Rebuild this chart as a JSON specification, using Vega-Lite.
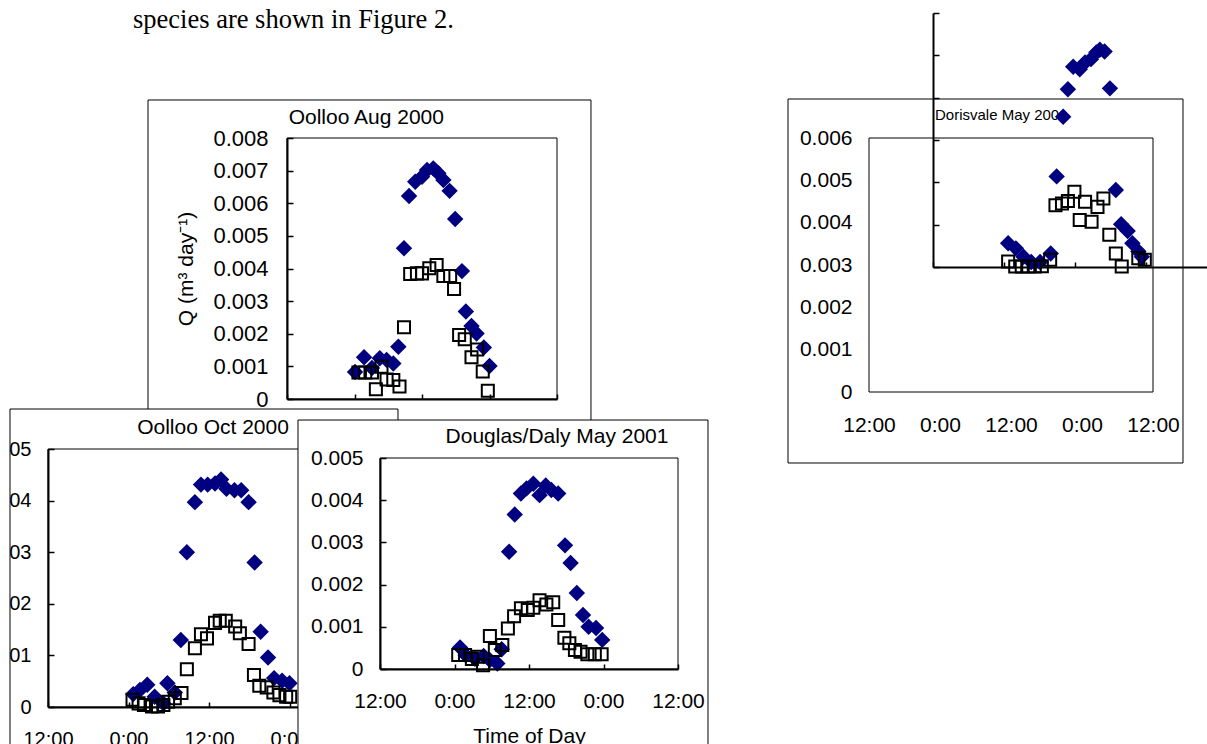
{
"$schema":"https://vega.github.io/schema/vega-lite/v6.json",
"width":1207,"height":744,"padding":0,"autosize":{"type":"none"},
"background":"white",
"config":{"view":{"stroke":null},"font":"Liberation Sans","axis":{"grid":false,"domainColor":"black","tickColor":"black","labelColor":"black","titleColor":"black","labelFont":"Liberation Sans","titleFont":"Liberation Sans","titleFontWeight":"normal","labelOverlap":false,"labelFlush":false,"labelBound":false,"domainWidth":2,"tickWidth":1.5}},
"datasets":{"q":[
{"site":"Oolloo Aug 2000","sp":"A","hour":12.1,"Q":0.00083},{"site":"Oolloo Aug 2000","sp":"A","hour":13.7,"Q":0.00128},{"site":"Oolloo Aug 2000","sp":"A","hour":15.1,"Q":0.00095},{"site":"Oolloo Aug 2000","sp":"A","hour":16.5,"Q":0.00125},{"site":"Oolloo Aug 2000","sp":"A","hour":17.7,"Q":0.0012},{"site":"Oolloo Aug 2000","sp":"A","hour":18.9,"Q":0.00109},{"site":"Oolloo Aug 2000","sp":"A","hour":19.8,"Q":0.0016},{"site":"Oolloo Aug 2000","sp":"A","hour":20.8,"Q":0.00462},{"site":"Oolloo Aug 2000","sp":"A","hour":21.7,"Q":0.00622},{"site":"Oolloo Aug 2000","sp":"A","hour":22.8,"Q":0.00666},{"site":"Oolloo Aug 2000","sp":"A","hour":24.0,"Q":0.00681},{"site":"Oolloo Aug 2000","sp":"A","hour":24.9,"Q":0.00702},{"site":"Oolloo Aug 2000","sp":"A","hour":26.0,"Q":0.00707},{"site":"Oolloo Aug 2000","sp":"A","hour":26.9,"Q":0.00692},{"site":"Oolloo Aug 2000","sp":"A","hour":27.8,"Q":0.00671},{"site":"Oolloo Aug 2000","sp":"A","hour":28.9,"Q":0.00638},{"site":"Oolloo Aug 2000","sp":"A","hour":29.9,"Q":0.00552},{"site":"Oolloo Aug 2000","sp":"A","hour":31.1,"Q":0.00392},{"site":"Oolloo Aug 2000","sp":"A","hour":31.8,"Q":0.00268},{"site":"Oolloo Aug 2000","sp":"A","hour":32.8,"Q":0.00224},{"site":"Oolloo Aug 2000","sp":"A","hour":33.7,"Q":0.00201},{"site":"Oolloo Aug 2000","sp":"A","hour":35.0,"Q":0.00158},{"site":"Oolloo Aug 2000","sp":"A","hour":36.0,"Q":0.00101},
{"site":"Oolloo Aug 2000","sp":"B","hour":12.7,"Q":0.00081},{"site":"Oolloo Aug 2000","sp":"B","hour":13.9,"Q":0.00081},{"site":"Oolloo Aug 2000","sp":"B","hour":15.1,"Q":0.00081},{"site":"Oolloo Aug 2000","sp":"B","hour":15.8,"Q":0.0003},{"site":"Oolloo Aug 2000","sp":"B","hour":16.8,"Q":0.00099},{"site":"Oolloo Aug 2000","sp":"B","hour":17.7,"Q":0.0006},{"site":"Oolloo Aug 2000","sp":"B","hour":18.9,"Q":0.00058},{"site":"Oolloo Aug 2000","sp":"B","hour":20.0,"Q":0.00038},{"site":"Oolloo Aug 2000","sp":"B","hour":20.8,"Q":0.0022},{"site":"Oolloo Aug 2000","sp":"B","hour":21.9,"Q":0.00383},{"site":"Oolloo Aug 2000","sp":"B","hour":23.1,"Q":0.00385},{"site":"Oolloo Aug 2000","sp":"B","hour":24.0,"Q":0.00385},{"site":"Oolloo Aug 2000","sp":"B","hour":25.3,"Q":0.00401},{"site":"Oolloo Aug 2000","sp":"B","hour":26.6,"Q":0.00411},{"site":"Oolloo Aug 2000","sp":"B","hour":27.8,"Q":0.00377},{"site":"Oolloo Aug 2000","sp":"B","hour":29.0,"Q":0.00377},{"site":"Oolloo Aug 2000","sp":"B","hour":29.7,"Q":0.00337},{"site":"Oolloo Aug 2000","sp":"B","hour":30.6,"Q":0.00196},{"site":"Oolloo Aug 2000","sp":"B","hour":31.6,"Q":0.00183},{"site":"Oolloo Aug 2000","sp":"B","hour":32.8,"Q":0.00128},{"site":"Oolloo Aug 2000","sp":"B","hour":33.8,"Q":0.00152},{"site":"Oolloo Aug 2000","sp":"B","hour":34.8,"Q":0.00084},{"site":"Oolloo Aug 2000","sp":"B","hour":35.7,"Q":0.00025},
{"site":"Oolloo Oct 2000","sp":"A","hour":12.7,"Q":0.00025},{"site":"Oolloo Oct 2000","sp":"A","hour":13.7,"Q":0.00033},{"site":"Oolloo Oct 2000","sp":"A","hour":14.8,"Q":0.00043},{"site":"Oolloo Oct 2000","sp":"A","hour":15.9,"Q":0.0002},{"site":"Oolloo Oct 2000","sp":"A","hour":17.2,"Q":0.00007},{"site":"Oolloo Oct 2000","sp":"A","hour":17.8,"Q":0.00046},{"site":"Oolloo Oct 2000","sp":"A","hour":18.9,"Q":0.00028},{"site":"Oolloo Oct 2000","sp":"A","hour":19.8,"Q":0.0013},{"site":"Oolloo Oct 2000","sp":"A","hour":20.7,"Q":0.003},{"site":"Oolloo Oct 2000","sp":"A","hour":21.9,"Q":0.00397},{"site":"Oolloo Oct 2000","sp":"A","hour":22.8,"Q":0.00431},{"site":"Oolloo Oct 2000","sp":"A","hour":23.8,"Q":0.00431},{"site":"Oolloo Oct 2000","sp":"A","hour":24.9,"Q":0.00433},{"site":"Oolloo Oct 2000","sp":"A","hour":25.8,"Q":0.00441},{"site":"Oolloo Oct 2000","sp":"A","hour":26.6,"Q":0.00423},{"site":"Oolloo Oct 2000","sp":"A","hour":27.8,"Q":0.0042},{"site":"Oolloo Oct 2000","sp":"A","hour":28.8,"Q":0.0042},{"site":"Oolloo Oct 2000","sp":"A","hour":29.9,"Q":0.00397},{"site":"Oolloo Oct 2000","sp":"A","hour":30.8,"Q":0.0028},{"site":"Oolloo Oct 2000","sp":"A","hour":31.7,"Q":0.00146},{"site":"Oolloo Oct 2000","sp":"A","hour":32.8,"Q":0.00096},{"site":"Oolloo Oct 2000","sp":"A","hour":33.7,"Q":0.00056},{"site":"Oolloo Oct 2000","sp":"A","hour":34.9,"Q":0.00051},{"site":"Oolloo Oct 2000","sp":"A","hour":36.0,"Q":0.00046},
{"site":"Oolloo Oct 2000","sp":"B","hour":12.6,"Q":0.00014},{"site":"Oolloo Oct 2000","sp":"B","hour":13.5,"Q":0.00007},{"site":"Oolloo Oct 2000","sp":"B","hour":14.3,"Q":0.00004},{"site":"Oolloo Oct 2000","sp":"B","hour":15.5,"Q":0.00001},{"site":"Oolloo Oct 2000","sp":"B","hour":16.4,"Q":0.00001},{"site":"Oolloo Oct 2000","sp":"B","hour":17.2,"Q":0.00004},{"site":"Oolloo Oct 2000","sp":"B","hour":17.9,"Q":0.0001},{"site":"Oolloo Oct 2000","sp":"B","hour":18.9,"Q":0.00017},{"site":"Oolloo Oct 2000","sp":"B","hour":19.9,"Q":0.00027},{"site":"Oolloo Oct 2000","sp":"B","hour":20.7,"Q":0.00073},{"site":"Oolloo Oct 2000","sp":"B","hour":21.9,"Q":0.00114},{"site":"Oolloo Oct 2000","sp":"B","hour":22.8,"Q":0.00141},{"site":"Oolloo Oct 2000","sp":"B","hour":23.7,"Q":0.00133},{"site":"Oolloo Oct 2000","sp":"B","hour":24.9,"Q":0.00163},{"site":"Oolloo Oct 2000","sp":"B","hour":25.6,"Q":0.00167},{"site":"Oolloo Oct 2000","sp":"B","hour":26.5,"Q":0.00167},{"site":"Oolloo Oct 2000","sp":"B","hour":27.9,"Q":0.00156},{"site":"Oolloo Oct 2000","sp":"B","hour":28.6,"Q":0.00143},{"site":"Oolloo Oct 2000","sp":"B","hour":29.9,"Q":0.00122},{"site":"Oolloo Oct 2000","sp":"B","hour":30.7,"Q":0.00062},{"site":"Oolloo Oct 2000","sp":"B","hour":31.5,"Q":0.00041},{"site":"Oolloo Oct 2000","sp":"B","hour":32.6,"Q":0.00038},{"site":"Oolloo Oct 2000","sp":"B","hour":33.6,"Q":0.00028},{"site":"Oolloo Oct 2000","sp":"B","hour":34.5,"Q":0.00023},{"site":"Oolloo Oct 2000","sp":"B","hour":35.5,"Q":0.0002},{"site":"Oolloo Oct 2000","sp":"B","hour":36.1,"Q":0.0002},
{"site":"Douglas/Daly May 2001","sp":"A","hour":12.9,"Q":0.00051},{"site":"Douglas/Daly May 2001","sp":"A","hour":13.8,"Q":0.00033},{"site":"Douglas/Daly May 2001","sp":"A","hour":15.3,"Q":0.00024},{"site":"Douglas/Daly May 2001","sp":"A","hour":16.7,"Q":0.00031},{"site":"Douglas/Daly May 2001","sp":"A","hour":17.7,"Q":0.00021},{"site":"Douglas/Daly May 2001","sp":"A","hour":18.9,"Q":0.00013},{"site":"Douglas/Daly May 2001","sp":"A","hour":19.6,"Q":0.00047},{"site":"Douglas/Daly May 2001","sp":"A","hour":20.8,"Q":0.00278},{"site":"Douglas/Daly May 2001","sp":"A","hour":21.7,"Q":0.00366},{"site":"Douglas/Daly May 2001","sp":"A","hour":22.7,"Q":0.00416},{"site":"Douglas/Daly May 2001","sp":"A","hour":23.6,"Q":0.00428},{"site":"Douglas/Daly May 2001","sp":"A","hour":24.7,"Q":0.00439},{"site":"Douglas/Daly May 2001","sp":"A","hour":25.7,"Q":0.00412},{"site":"Douglas/Daly May 2001","sp":"A","hour":26.7,"Q":0.00435},{"site":"Douglas/Daly May 2001","sp":"A","hour":27.6,"Q":0.00424},{"site":"Douglas/Daly May 2001","sp":"A","hour":28.7,"Q":0.00416},{"site":"Douglas/Daly May 2001","sp":"A","hour":29.8,"Q":0.00293},{"site":"Douglas/Daly May 2001","sp":"A","hour":30.7,"Q":0.00251},{"site":"Douglas/Daly May 2001","sp":"A","hour":31.7,"Q":0.0018},{"site":"Douglas/Daly May 2001","sp":"A","hour":32.7,"Q":0.00128},{"site":"Douglas/Daly May 2001","sp":"A","hour":33.6,"Q":0.001},{"site":"Douglas/Daly May 2001","sp":"A","hour":34.8,"Q":0.00097},{"site":"Douglas/Daly May 2001","sp":"A","hour":35.8,"Q":0.00069},
{"site":"Douglas/Daly May 2001","sp":"B","hour":12.6,"Q":0.00033},{"site":"Douglas/Daly May 2001","sp":"B","hour":13.7,"Q":0.00033},{"site":"Douglas/Daly May 2001","sp":"B","hour":14.8,"Q":0.00024},{"site":"Douglas/Daly May 2001","sp":"B","hour":15.8,"Q":0.00029},{"site":"Douglas/Daly May 2001","sp":"B","hour":16.6,"Q":0.00009},{"site":"Douglas/Daly May 2001","sp":"B","hour":17.7,"Q":0.00078},{"site":"Douglas/Daly May 2001","sp":"B","hour":18.5,"Q":0.00045},{"site":"Douglas/Daly May 2001","sp":"B","hour":19.7,"Q":0.00057},{"site":"Douglas/Daly May 2001","sp":"B","hour":20.6,"Q":0.00096},{"site":"Douglas/Daly May 2001","sp":"B","hour":21.6,"Q":0.00125},{"site":"Douglas/Daly May 2001","sp":"B","hour":22.7,"Q":0.00144},{"site":"Douglas/Daly May 2001","sp":"B","hour":23.8,"Q":0.0014},{"site":"Douglas/Daly May 2001","sp":"B","hour":24.7,"Q":0.00145},{"site":"Douglas/Daly May 2001","sp":"B","hour":25.7,"Q":0.00163},{"site":"Douglas/Daly May 2001","sp":"B","hour":26.8,"Q":0.00153},{"site":"Douglas/Daly May 2001","sp":"B","hour":27.9,"Q":0.00158},{"site":"Douglas/Daly May 2001","sp":"B","hour":28.7,"Q":0.00116},{"site":"Douglas/Daly May 2001","sp":"B","hour":29.7,"Q":0.00074},{"site":"Douglas/Daly May 2001","sp":"B","hour":30.5,"Q":0.00061},{"site":"Douglas/Daly May 2001","sp":"B","hour":31.4,"Q":0.00045},{"site":"Douglas/Daly May 2001","sp":"B","hour":32.3,"Q":0.00041},{"site":"Douglas/Daly May 2001","sp":"B","hour":33.4,"Q":0.00035},{"site":"Douglas/Daly May 2001","sp":"B","hour":34.6,"Q":0.00035},{"site":"Douglas/Daly May 2001","sp":"B","hour":35.7,"Q":0.00035},
{"site":"Dorisvale May 2001","sp":"A","hour":12.7,"Q":0.00056},{"site":"Dorisvale May 2001","sp":"A","hour":14.0,"Q":0.00044},{"site":"Dorisvale May 2001","sp":"A","hour":15.3,"Q":0.00024},{"site":"Dorisvale May 2001","sp":"A","hour":16.6,"Q":0.00012},{"site":"Dorisvale May 2001","sp":"A","hour":18.1,"Q":0.00012},{"site":"Dorisvale May 2001","sp":"A","hour":19.9,"Q":0.00032},{"site":"Dorisvale May 2001","sp":"A","hour":20.9,"Q":0.00214},{"site":"Dorisvale May 2001","sp":"A","hour":22.0,"Q":0.00355},{"site":"Dorisvale May 2001","sp":"A","hour":22.8,"Q":0.0042},{"site":"Dorisvale May 2001","sp":"A","hour":23.7,"Q":0.00473},{"site":"Dorisvale May 2001","sp":"A","hour":24.8,"Q":0.00467},{"site":"Dorisvale May 2001","sp":"A","hour":25.7,"Q":0.00483},{"site":"Dorisvale May 2001","sp":"A","hour":26.7,"Q":0.00491},{"site":"Dorisvale May 2001","sp":"A","hour":27.6,"Q":0.00507},{"site":"Dorisvale May 2001","sp":"A","hour":28.2,"Q":0.00513},{"site":"Dorisvale May 2001","sp":"A","hour":29.0,"Q":0.00509},{"site":"Dorisvale May 2001","sp":"A","hour":29.9,"Q":0.00422},{"site":"Dorisvale May 2001","sp":"A","hour":30.9,"Q":0.00182},{"site":"Dorisvale May 2001","sp":"A","hour":31.8,"Q":0.00101},{"site":"Dorisvale May 2001","sp":"A","hour":32.9,"Q":0.00085},{"site":"Dorisvale May 2001","sp":"A","hour":33.7,"Q":0.00056},{"site":"Dorisvale May 2001","sp":"A","hour":34.7,"Q":0.00037},{"site":"Dorisvale May 2001","sp":"A","hour":35.3,"Q":0.00024},
{"site":"Dorisvale May 2001","sp":"B","hour":12.7,"Q":0.00013},{"site":"Dorisvale May 2001","sp":"B","hour":13.9,"Q":0.00001},{"site":"Dorisvale May 2001","sp":"B","hour":15.0,"Q":0.00001},{"site":"Dorisvale May 2001","sp":"B","hour":16.1,"Q":0.00001},{"site":"Dorisvale May 2001","sp":"B","hour":17.2,"Q":0.00001},{"site":"Dorisvale May 2001","sp":"B","hour":18.4,"Q":0.00002},{"site":"Dorisvale May 2001","sp":"B","hour":19.8,"Q":0.00017},{"site":"Dorisvale May 2001","sp":"B","hour":20.7,"Q":0.00146},{"site":"Dorisvale May 2001","sp":"B","hour":21.8,"Q":0.0015},{"site":"Dorisvale May 2001","sp":"B","hour":22.8,"Q":0.00156},{"site":"Dorisvale May 2001","sp":"B","hour":23.9,"Q":0.00178},{"site":"Dorisvale May 2001","sp":"B","hour":24.8,"Q":0.00111},{"site":"Dorisvale May 2001","sp":"B","hour":25.7,"Q":0.00154},{"site":"Dorisvale May 2001","sp":"B","hour":26.8,"Q":0.00107},{"site":"Dorisvale May 2001","sp":"B","hour":27.8,"Q":0.00142},{"site":"Dorisvale May 2001","sp":"B","hour":28.8,"Q":0.00162},{"site":"Dorisvale May 2001","sp":"B","hour":29.8,"Q":0.00076},{"site":"Dorisvale May 2001","sp":"B","hour":30.9,"Q":0.00032},{"site":"Dorisvale May 2001","sp":"B","hour":31.9,"Q":0.00001},{"site":"Dorisvale May 2001","sp":"B","hour":34.7,"Q":0.00021},{"site":"Dorisvale May 2001","sp":"B","hour":35.8,"Q":0.00017}
]},
"resolve":{"scale":{"x":"independent","y":"independent"},"axis":{"x":"independent","y":"independent"}},
"layer":[
{"layer":[
 {"data":{"values":[{}]},"mark":{"type":"rule","color":"black","strokeWidth":1},
  "encoding":{"x":{"datum":-24.71,"type":"quantitative","scale":{"domain":[0,48],"range":[287,557],"zero":false,"nice":false},"axis":{"orient":"bottom","offset":-345,"values":[0,12,24,36,48],"labels":false,"tickSize":-5,"title":null,"zindex":0}},"y":{"datum":0.009165,"type":"quantitative","scale":{"domain":[0,0.008],"range":[399,138],"zero":false,"nice":false},"axis":{"orient":"left","offset":-287,"values":[0,0.001,0.002,0.003,0.004,0.005,0.006,0.007,0.008],"labelExpr":"datum.value == 0 ? '0' : format(datum.value, '.3f')","tickSize":-6,"labelPadding":25,"labelFontSize":22,"title":"Q (m³ day⁻¹)","titleFontSize":21,"titlePadding":16,"zindex":0}},"y2":{"datum":-0.000307}}},
 {"data":{"values":[{}]},"mark":{"type":"rule","color":"black","strokeWidth":1},
  "encoding":{"x":{"datum":-24.71,"type":"quantitative","scale":{"domain":[0,48],"range":[287,557],"zero":false,"nice":false},"axis":{"orient":"bottom","offset":-345,"values":[0,12,24,36,48],"labels":false,"tickSize":-5,"title":null,"zindex":0}},"x2":{"datum":54.04},"y":{"datum":0.009165,"type":"quantitative","scale":{"domain":[0,0.008],"range":[399,138],"zero":false,"nice":false},"axis":{"orient":"left","offset":-287,"values":[0,0.001,0.002,0.003,0.004,0.005,0.006,0.007,0.008],"labelExpr":"datum.value == 0 ? '0' : format(datum.value, '.3f')","tickSize":-6,"labelPadding":25,"labelFontSize":22,"title":"Q (m³ day⁻¹)","titleFontSize":21,"titlePadding":16,"zindex":0}}}},
 {"data":{"values":[{}]},"mark":{"type":"rule","color":"black","strokeWidth":1},
  "encoding":{"x":{"datum":54.04,"type":"quantitative","scale":{"domain":[0,48],"range":[287,557],"zero":false,"nice":false},"axis":{"orient":"bottom","offset":-345,"values":[0,12,24,36,48],"labels":false,"tickSize":-5,"title":null,"zindex":0}},"y":{"datum":0.009165,"type":"quantitative","scale":{"domain":[0,0.008],"range":[399,138],"zero":false,"nice":false},"axis":{"orient":"left","offset":-287,"values":[0,0.001,0.002,0.003,0.004,0.005,0.006,0.007,0.008],"labelExpr":"datum.value == 0 ? '0' : format(datum.value, '.3f')","tickSize":-6,"labelPadding":25,"labelFontSize":22,"title":"Q (m³ day⁻¹)","titleFontSize":21,"titlePadding":16,"zindex":0}},"y2":{"datum":-0.000644}}},
 {"data":{"values":[{}]},"mark":{"type":"rect","fill":"white","fillOpacity":0,"stroke":"black","strokeWidth":1},
  "encoding":{"x":{"datum":0,"type":"quantitative","scale":{"domain":[0,48],"range":[287,557],"zero":false,"nice":false},"axis":{"orient":"bottom","offset":-345,"values":[0,12,24,36,48],"labels":false,"tickSize":-5,"title":null,"zindex":0}},"x2":{"datum":48},"y":{"datum":0,"type":"quantitative","scale":{"domain":[0,0.008],"range":[399,138],"zero":false,"nice":false},"axis":{"orient":"left","offset":-287,"values":[0,0.001,0.002,0.003,0.004,0.005,0.006,0.007,0.008],"labelExpr":"datum.value == 0 ? '0' : format(datum.value, '.3f')","tickSize":-6,"labelPadding":25,"labelFontSize":22,"title":"Q (m³ day⁻¹)","titleFontSize":21,"titlePadding":16,"zindex":0}},"y2":{"datum":0.008}}},
 {"data":{"name":"q"},"transform":[{"filter":"datum.site === 'Oolloo Aug 2000'"}],
  "mark":{"type":"point","strokeWidth":2,"opacity":1},
  "encoding":{
   "x":{"field":"hour","type":"quantitative","scale":{"domain":[0,48],"range":[287,557],"zero":false,"nice":false},"axis":{"orient":"bottom","offset":-345,"values":[0,12,24,36,48],"labels":false,"tickSize":-5,"title":null,"zindex":0}},
   "y":{"field":"Q","type":"quantitative","scale":{"domain":[0,0.008],"range":[399,138],"zero":false,"nice":false},"axis":{"orient":"left","offset":-287,"values":[0,0.001,0.002,0.003,0.004,0.005,0.006,0.007,0.008],"labelExpr":"datum.value == 0 ? '0' : format(datum.value, '.3f')","tickSize":-6,"labelPadding":25,"labelFontSize":22,"title":"Q (m³ day⁻¹)","titleFontSize":21,"titlePadding":16,"zindex":0}},
   "shape":{"field":"sp","type":"nominal","scale":{"domain":["A","B"],"range":["diamond","square"]},"legend":null},
   "size":{"condition":{"test":"datum.sp === 'A'","value":185},"value":145},
   "fill":{"condition":{"test":"datum.sp === 'A'","value":"#000080"},"value":"transparent"},
   "stroke":{"condition":{"test":"datum.sp === 'A'","value":"#000080"},"value":"#000000"}}},
 {"data":{"values":[{}]},"mark":{"type":"text","fontSize":21,"color":"black","align":"center","baseline":"middle"},
  "encoding":{"x":{"datum":14.1,"type":"quantitative","scale":{"domain":[0,48],"range":[287,557],"zero":false,"nice":false},"axis":{"orient":"bottom","offset":-345,"values":[0,12,24,36,48],"labels":false,"tickSize":-5,"title":null,"zindex":0}},"y":{"datum":0.008613,"type":"quantitative","scale":{"domain":[0,0.008],"range":[399,138],"zero":false,"nice":false},"axis":{"orient":"left","offset":-287,"values":[0,0.001,0.002,0.003,0.004,0.005,0.006,0.007,0.008],"labelExpr":"datum.value == 0 ? '0' : format(datum.value, '.3f')","tickSize":-6,"labelPadding":25,"labelFontSize":22,"title":"Q (m³ day⁻¹)","titleFontSize":21,"titlePadding":16,"zindex":0}},"text":{"value":"Oolloo Aug 2000"}}},
 {"data":{"values":[{}]},"mark":{"type":"text","font":"Liberation Serif","fontSize":26.5,"color":"black","align":"left","baseline":"middle"},
  "encoding":{"x":{"datum":-27.38,"type":"quantitative","scale":{"domain":[0,48],"range":[287,557],"zero":false,"nice":false},"axis":{"orient":"bottom","offset":-345,"values":[0,12,24,36,48],"labels":false,"tickSize":-5,"title":null,"zindex":0}},"y":{"datum":0.011617,"type":"quantitative","scale":{"domain":[0,0.008],"range":[399,138],"zero":false,"nice":false},"axis":{"orient":"left","offset":-287,"values":[0,0.001,0.002,0.003,0.004,0.005,0.006,0.007,0.008],"labelExpr":"datum.value == 0 ? '0' : format(datum.value, '.3f')","tickSize":-6,"labelPadding":25,"labelFontSize":22,"title":"Q (m³ day⁻¹)","titleFontSize":21,"titlePadding":16,"zindex":0}},"text":{"value":"species are shown in Figure 2."}}}
]},
{"layer":[
 {"data":{"values":[{}]},"mark":{"type":"rect","fill":"white","fillOpacity":1,"strokeWidth":0},
  "encoding":{"x":{"datum":-10,"type":"quantitative","scale":{"domain":[0,48],"range":[48,370],"zero":false,"nice":false},"axis":{"orient":"bottom","offset":-37,"values":[0,12,24,36,48],"labelExpr":"datum.value % 24 == 0 ? '12:00' : '0:00'","tickSize":-5,"labelPadding":27,"labelFontSize":20,"title":null,"zindex":0}},"x2":{"datum":-5.665},"y":{"datum":0.005775,"type":"quantitative","scale":{"domain":[0,0.005],"range":[707,449],"zero":false,"nice":false},"axis":{"orient":"left","offset":-48,"values":[0,0.001,0.002,0.003,0.004,0.005],"labelExpr":"datum.value == 0 ? '0' : format(datum.value, '.3f')","tickSize":-6,"labelPadding":23,"labelFontSize":20,"title":null,"zindex":0}},"y2":{"datum":-0.002}}},
 {"data":{"values":[{}]},"mark":{"type":"rect","fill":"white","fillOpacity":0,"stroke":"black","strokeWidth":1},
  "encoding":{"x":{"datum":-5.665,"type":"quantitative","scale":{"domain":[0,48],"range":[48,370],"zero":false,"nice":false},"axis":{"orient":"bottom","offset":-37,"values":[0,12,24,36,48],"labelExpr":"datum.value % 24 == 0 ? '12:00' : '0:00'","tickSize":-5,"labelPadding":27,"labelFontSize":20,"title":null,"zindex":0}},"x2":{"datum":52.17},"y":{"datum":0.005775,"type":"quantitative","scale":{"domain":[0,0.005],"range":[707,449],"zero":false,"nice":false},"axis":{"orient":"left","offset":-48,"values":[0,0.001,0.002,0.003,0.004,0.005],"labelExpr":"datum.value == 0 ? '0' : format(datum.value, '.3f')","tickSize":-6,"labelPadding":23,"labelFontSize":20,"title":null,"zindex":0}},"y2":{"datum":-0.001027}}},
 {"data":{"values":[{}]},"mark":{"type":"rect","fill":"white","fillOpacity":0,"stroke":"black","strokeWidth":1},
  "encoding":{"x":{"datum":0,"type":"quantitative","scale":{"domain":[0,48],"range":[48,370],"zero":false,"nice":false},"axis":{"orient":"bottom","offset":-37,"values":[0,12,24,36,48],"labelExpr":"datum.value % 24 == 0 ? '12:00' : '0:00'","tickSize":-5,"labelPadding":27,"labelFontSize":20,"title":null,"zindex":0}},"x2":{"datum":48},"y":{"datum":0,"type":"quantitative","scale":{"domain":[0,0.005],"range":[707,449],"zero":false,"nice":false},"axis":{"orient":"left","offset":-48,"values":[0,0.001,0.002,0.003,0.004,0.005],"labelExpr":"datum.value == 0 ? '0' : format(datum.value, '.3f')","tickSize":-6,"labelPadding":23,"labelFontSize":20,"title":null,"zindex":0}},"y2":{"datum":0.005}}},
 {"data":{"name":"q"},"transform":[{"filter":"datum.site === 'Oolloo Oct 2000'"}],
  "mark":{"type":"point","strokeWidth":2,"opacity":1},
  "encoding":{
   "x":{"field":"hour","type":"quantitative","scale":{"domain":[0,48],"range":[48,370],"zero":false,"nice":false},"axis":{"orient":"bottom","offset":-37,"values":[0,12,24,36,48],"labelExpr":"datum.value % 24 == 0 ? '12:00' : '0:00'","tickSize":-5,"labelPadding":27,"labelFontSize":20,"title":null,"zindex":0}},
   "y":{"field":"Q","type":"quantitative","scale":{"domain":[0,0.005],"range":[707,449],"zero":false,"nice":false},"axis":{"orient":"left","offset":-48,"values":[0,0.001,0.002,0.003,0.004,0.005],"labelExpr":"datum.value == 0 ? '0' : format(datum.value, '.3f')","tickSize":-6,"labelPadding":23,"labelFontSize":20,"title":null,"zindex":0}},
   "shape":{"field":"sp","type":"nominal","scale":{"domain":["A","B"],"range":["diamond","square"]},"legend":null},
   "size":{"condition":{"test":"datum.sp === 'A'","value":185},"value":145},
   "fill":{"condition":{"test":"datum.sp === 'A'","value":"#000080"},"value":"transparent"},
   "stroke":{"condition":{"test":"datum.sp === 'A'","value":"#000080"},"value":"#000000"}}},
 {"data":{"values":[{}]},"mark":{"type":"text","fontSize":21,"color":"black","align":"center","baseline":"middle"},
  "encoding":{"x":{"datum":24.6,"type":"quantitative","scale":{"domain":[0,48],"range":[48,370],"zero":false,"nice":false},"axis":{"orient":"bottom","offset":-37,"values":[0,12,24,36,48],"labelExpr":"datum.value % 24 == 0 ? '12:00' : '0:00'","tickSize":-5,"labelPadding":27,"labelFontSize":20,"title":null,"zindex":0}},"y":{"datum":0.005407,"type":"quantitative","scale":{"domain":[0,0.005],"range":[707,449],"zero":false,"nice":false},"axis":{"orient":"left","offset":-48,"values":[0,0.001,0.002,0.003,0.004,0.005],"labelExpr":"datum.value == 0 ? '0' : format(datum.value, '.3f')","tickSize":-6,"labelPadding":23,"labelFontSize":20,"title":null,"zindex":0}},"text":{"value":"Oolloo Oct 2000"}}}
]},
{"layer":[
 {"data":{"values":[{}]},"mark":{"type":"rect","fill":"white","fillOpacity":1,"stroke":"black","strokeWidth":1},
  "encoding":{"x":{"datum":-13.21,"type":"quantitative","scale":{"domain":[0,48],"range":[380,678],"zero":false,"nice":false},"axis":{"orient":"bottom","offset":-75,"values":[0,12,24,36,48],"labelExpr":"datum.value % 24 == 0 ? '12:00' : '0:00'","tickSize":-5,"labelPadding":26,"labelFontSize":21,"title":"Time of Day","titleFontSize":21,"titlePadding":14,"zindex":1}},"x2":{"datum":52.83},"y":{"datum":0.0059,"type":"quantitative","scale":{"domain":[0,0.005],"range":[669,458],"zero":false,"nice":false},"axis":{"orient":"left","offset":-380,"values":[0,0.001,0.002,0.003,0.004,0.005],"labelExpr":"datum.value == 0 ? '0' : format(datum.value, '.3f')","tickSize":-6,"labelPadding":23,"labelFontSize":21,"title":null,"zindex":1}},"y2":{"datum":-0.002156}}},
 {"data":{"values":[{}]},"mark":{"type":"rect","fill":"white","fillOpacity":0,"stroke":"black","strokeWidth":1},
  "encoding":{"x":{"datum":0,"type":"quantitative","scale":{"domain":[0,48],"range":[380,678],"zero":false,"nice":false},"axis":{"orient":"bottom","offset":-75,"values":[0,12,24,36,48],"labelExpr":"datum.value % 24 == 0 ? '12:00' : '0:00'","tickSize":-5,"labelPadding":26,"labelFontSize":21,"title":"Time of Day","titleFontSize":21,"titlePadding":14,"zindex":1}},"x2":{"datum":48},"y":{"datum":0,"type":"quantitative","scale":{"domain":[0,0.005],"range":[669,458],"zero":false,"nice":false},"axis":{"orient":"left","offset":-380,"values":[0,0.001,0.002,0.003,0.004,0.005],"labelExpr":"datum.value == 0 ? '0' : format(datum.value, '.3f')","tickSize":-6,"labelPadding":23,"labelFontSize":21,"title":null,"zindex":1}},"y2":{"datum":0.005}}},
 {"data":{"name":"q"},"transform":[{"filter":"datum.site === 'Douglas/Daly May 2001'"}],
  "mark":{"type":"point","strokeWidth":2,"opacity":1},
  "encoding":{
   "x":{"field":"hour","type":"quantitative","scale":{"domain":[0,48],"range":[380,678],"zero":false,"nice":false},"axis":{"orient":"bottom","offset":-75,"values":[0,12,24,36,48],"labelExpr":"datum.value % 24 == 0 ? '12:00' : '0:00'","tickSize":-5,"labelPadding":26,"labelFontSize":21,"title":"Time of Day","titleFontSize":21,"titlePadding":14,"zindex":1}},
   "y":{"field":"Q","type":"quantitative","scale":{"domain":[0,0.005],"range":[669,458],"zero":false,"nice":false},"axis":{"orient":"left","offset":-380,"values":[0,0.001,0.002,0.003,0.004,0.005],"labelExpr":"datum.value == 0 ? '0' : format(datum.value, '.3f')","tickSize":-6,"labelPadding":23,"labelFontSize":21,"title":null,"zindex":1}},
   "shape":{"field":"sp","type":"nominal","scale":{"domain":["A","B"],"range":["diamond","square"]},"legend":null},
   "size":{"condition":{"test":"datum.sp === 'A'","value":185},"value":145},
   "fill":{"condition":{"test":"datum.sp === 'A'","value":"#000080"},"value":"transparent"},
   "stroke":{"condition":{"test":"datum.sp === 'A'","value":"#000080"},"value":"#000000"}}},
 {"data":{"values":[{}]},"mark":{"type":"text","fontSize":21,"color":"black","align":"center","baseline":"middle"},
  "encoding":{"x":{"datum":28.51,"type":"quantitative","scale":{"domain":[0,48],"range":[380,678],"zero":false,"nice":false},"axis":{"orient":"bottom","offset":-75,"values":[0,12,24,36,48],"labelExpr":"datum.value % 24 == 0 ? '12:00' : '0:00'","tickSize":-5,"labelPadding":26,"labelFontSize":21,"title":"Time of Day","titleFontSize":21,"titlePadding":14,"zindex":1}},"y":{"datum":0.005498,"type":"quantitative","scale":{"domain":[0,0.005],"range":[669,458],"zero":false,"nice":false},"axis":{"orient":"left","offset":-380,"values":[0,0.001,0.002,0.003,0.004,0.005],"labelExpr":"datum.value == 0 ? '0' : format(datum.value, '.3f')","tickSize":-6,"labelPadding":23,"labelFontSize":21,"title":null,"zindex":1}},"text":{"value":"Douglas/Daly May 2001"}}}
]},
{"layer":[
 {"data":{"values":[{}]},"mark":{"type":"rect","fill":"white","fillOpacity":0,"stroke":"black","strokeWidth":1},
  "encoding":{"x":{"datum":-13.69,"type":"quantitative","scale":{"domain":[0,48],"range":[869,1153],"zero":false,"nice":false},"axis":{"orient":"bottom","offset":-352,"values":[0,12,24,36,48],"labelExpr":"datum.value % 24 == 0 ? '12:00' : '0:00'","ticks":false,"domain":false,"labelPadding":22,"labelFontSize":21,"title":null,"zindex":0}},"x2":{"datum":53.07},"y":{"datum":0.006921,"type":"quantitative","scale":{"domain":[0,0.006],"range":[392,138],"zero":false,"nice":false},"axis":{"orient":"left","offset":-869,"values":[0,0.001,0.002,0.003,0.004,0.005,0.006],"labelExpr":"datum.value == 0 ? '0' : format(datum.value, '.3f')","ticks":false,"domain":false,"labelPadding":17,"labelFontSize":21,"title":null,"zindex":0}},"y2":{"datum":-0.001677}}},
 {"data":{"values":[{}]},"mark":{"type":"rect","fill":"white","fillOpacity":0,"stroke":"black","strokeWidth":1},
  "encoding":{"x":{"datum":0,"type":"quantitative","scale":{"domain":[0,48],"range":[869,1153],"zero":false,"nice":false},"axis":{"orient":"bottom","offset":-352,"values":[0,12,24,36,48],"labelExpr":"datum.value % 24 == 0 ? '12:00' : '0:00'","ticks":false,"domain":false,"labelPadding":22,"labelFontSize":21,"title":null,"zindex":0}},"x2":{"datum":48},"y":{"datum":0,"type":"quantitative","scale":{"domain":[0,0.006],"range":[392,138],"zero":false,"nice":false},"axis":{"orient":"left","offset":-869,"values":[0,0.001,0.002,0.003,0.004,0.005,0.006],"labelExpr":"datum.value == 0 ? '0' : format(datum.value, '.3f')","ticks":false,"domain":false,"labelPadding":17,"labelFontSize":21,"title":null,"zindex":0}},"y2":{"datum":0.006}}},
 {"data":{"values":[{}]},"mark":{"type":"text","fontSize":15,"color":"black","align":"left","baseline":"middle"},
  "encoding":{"x":{"datum":11.15,"type":"quantitative","scale":{"domain":[0,48],"range":[869,1153],"zero":false,"nice":false},"axis":{"orient":"bottom","offset":-352,"values":[0,12,24,36,48],"labelExpr":"datum.value % 24 == 0 ? '12:00' : '0:00'","ticks":false,"domain":false,"labelPadding":22,"labelFontSize":21,"title":null,"zindex":0}},"y":{"datum":0.006543,"type":"quantitative","scale":{"domain":[0,0.006],"range":[392,138],"zero":false,"nice":false},"axis":{"orient":"left","offset":-869,"values":[0,0.001,0.002,0.003,0.004,0.005,0.006],"labelExpr":"datum.value == 0 ? '0' : format(datum.value, '.3f')","ticks":false,"domain":false,"labelPadding":17,"labelFontSize":21,"title":null,"zindex":0}},"text":{"value":"Dorisvale May 2001"}}}
]},
{"layer":[
 {"data":{"name":"q"},"transform":[{"filter":"datum.site === 'Dorisvale May 2001'"}],
  "mark":{"type":"point","strokeWidth":2,"opacity":1},
  "encoding":{
   "x":{"field":"hour","type":"quantitative","scale":{"domain":[0,48],"range":[933,1217],"zero":false,"nice":false},"axis":{"orient":"bottom","offset":-477,"values":[0,12,24,36,48],"labels":false,"tickSize":-5,"title":null,"zindex":0}},
   "y":{"field":"Q","type":"quantitative","scale":{"domain":[0,0.006],"range":[267,13],"zero":false,"nice":false},"axis":{"orient":"left","offset":-933,"values":[0,0.001,0.002,0.003,0.004,0.005,0.006],"labels":false,"tickSize":-6,"title":null,"zindex":0}},
   "shape":{"field":"sp","type":"nominal","scale":{"domain":["A","B"],"range":["diamond","square"]},"legend":null},
   "size":{"condition":{"test":"datum.sp === 'A'","value":185},"value":145},
   "fill":{"condition":{"test":"datum.sp === 'A'","value":"#000080"},"value":"transparent"},
   "stroke":{"condition":{"test":"datum.sp === 'A'","value":"#000080"},"value":"#000000"}}}
]}
]
}
